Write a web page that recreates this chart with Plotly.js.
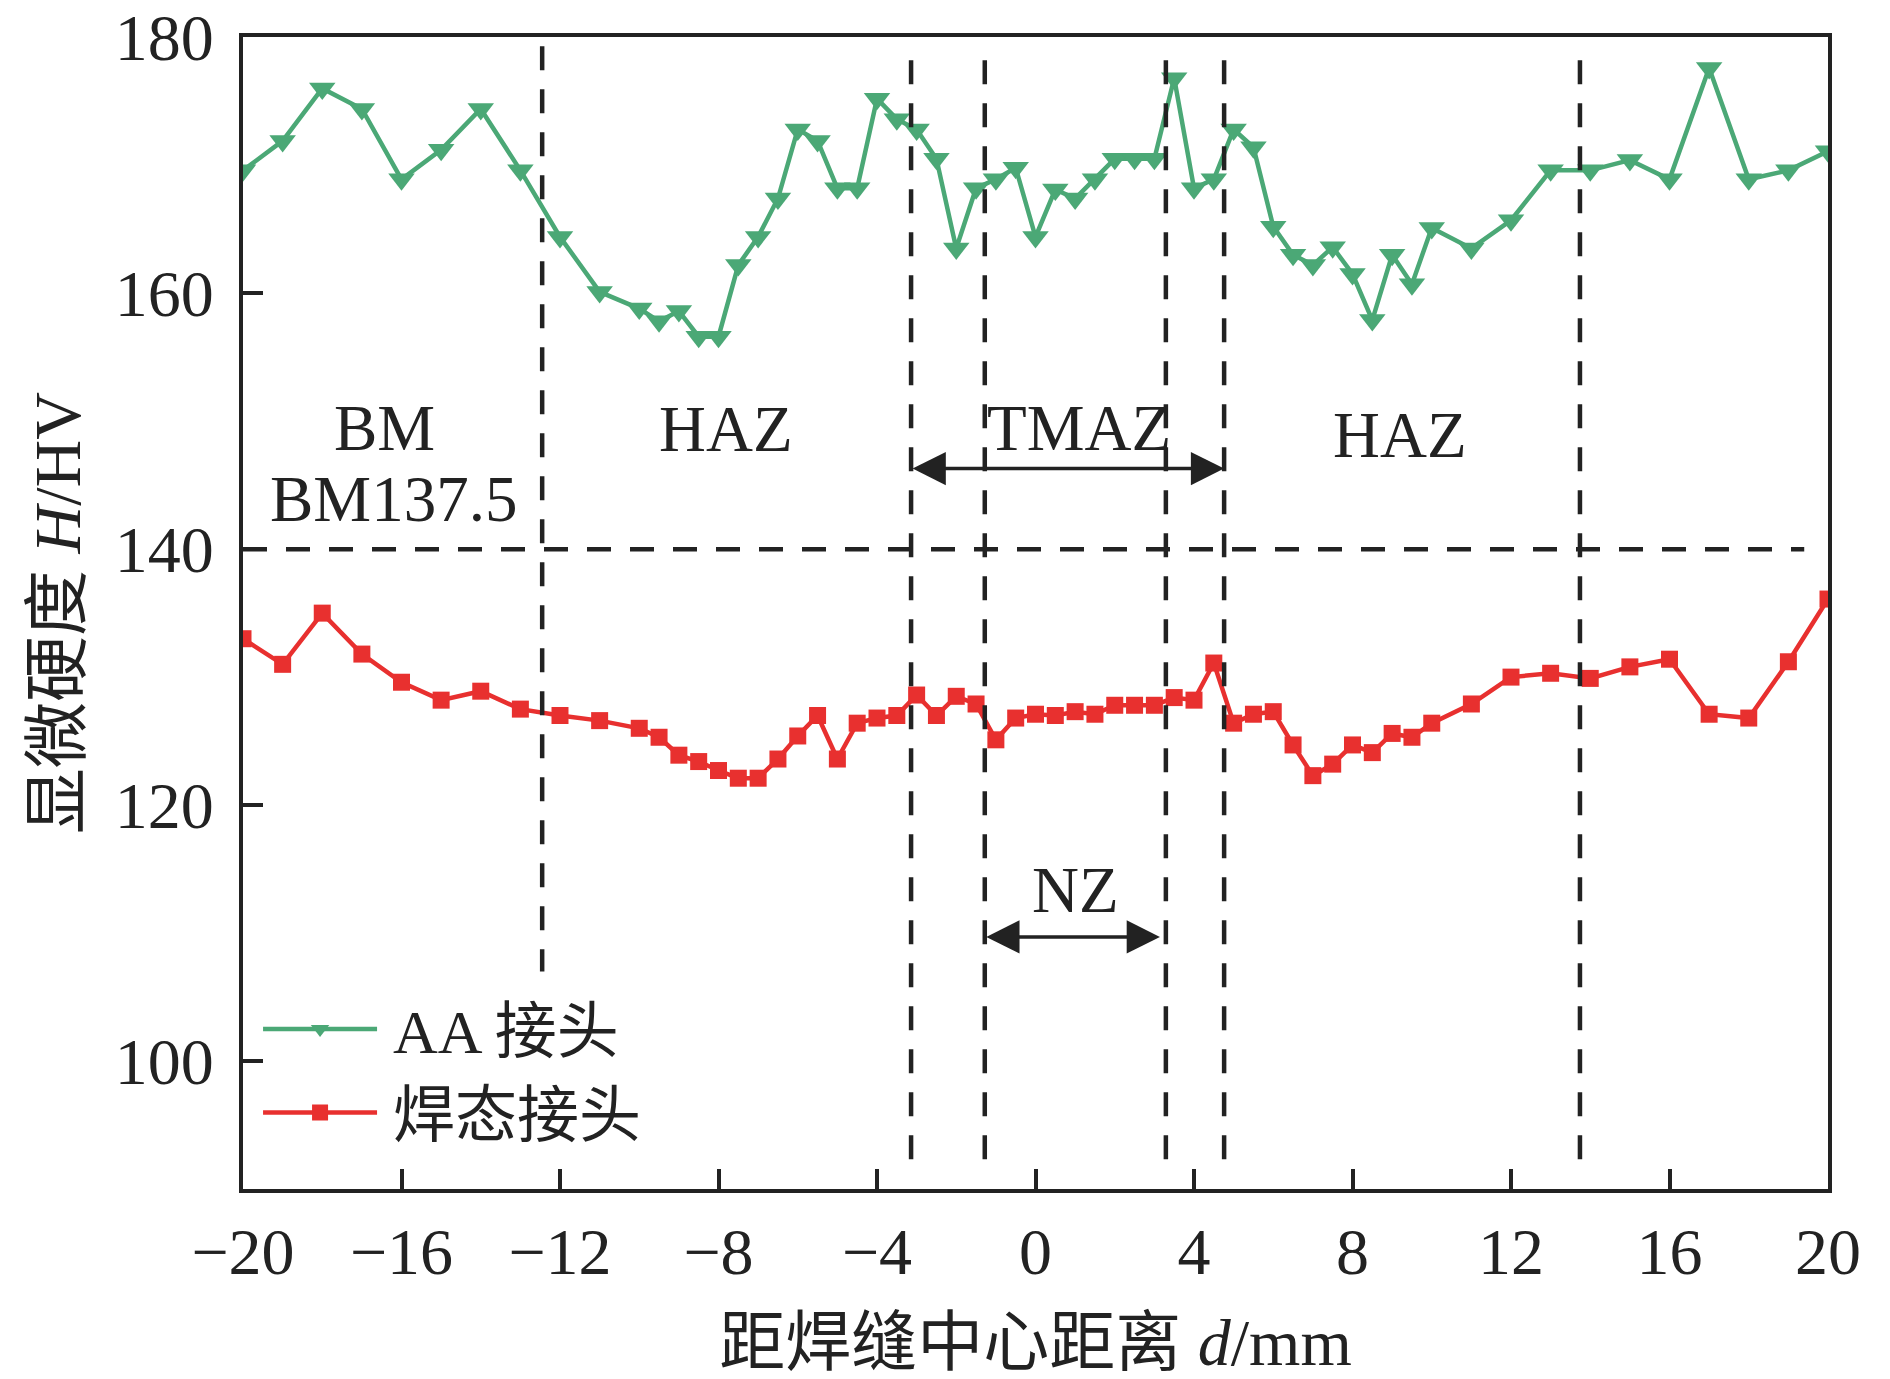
<!DOCTYPE html>
<html>
<head>
<meta charset="utf-8">
<script src="https://cdn.plot.ly/plotly-3.0.1.min.js"></script>
<style>
  html, body { margin: 0; padding: 0; background: #ffffff; }
  #chart { width: 1890px; height: 1379px; }
</style>
</head>
<body>
<div id="chart"></div>
<script>
// Distance from weld centre (mm)
const distanceMm = [
  -20, -19, -18, -17, -16, -15, -14, -13, -12, -11, -10,
  -9.5, -9, -8.5, -8, -7.5, -7, -6.5, -6, -5.5, -5,
  -4.5, -4, -3.5, -3, -2.5, -2, -1.5, -1, -0.5, 0,
  0.5, 1, 1.5, 2, 2.5, 3, 3.5, 4, 4.5, 5,
  5.5, 6, 6.5, 7, 7.5, 8, 8.5, 9, 9.5, 10,
  11, 12, 13, 14, 15, 16, 17, 18, 19, 20
];

// AA 接头 hardness (HV)
const hardnessAA = [
  169.6, 171.9, 176.0, 174.4, 168.9, 171.2, 174.4, 169.6, 164.4, 160.1, 158.8,
  157.8, 158.6, 156.6, 156.6, 162.2, 164.4, 167.4, 172.8, 171.9, 168.2,
  168.2, 175.2, 173.6, 172.8, 170.5, 163.5, 168.2, 168.9, 169.8, 164.4,
  168.1, 167.4, 168.9, 170.5, 170.5, 170.5, 176.8, 168.2, 168.9, 172.8,
  171.4, 165.2, 163.0, 162.2, 163.6, 161.5, 157.9, 163.0, 160.7, 165.1,
  163.5, 165.7, 169.6, 169.6, 170.4, 168.9, 177.6, 168.9, 169.6, 171.1
];

// 焊态接头 hardness (HV)
const hardnessAsWelded = [
  133.0, 131.0, 135.0, 131.8, 129.6, 128.2, 128.9, 127.5, 127.0, 126.6, 126.0,
  125.3, 123.9, 123.4, 122.7, 122.1, 122.1, 123.6, 125.4, 127.0, 123.6,
  126.4, 126.8, 127.0, 128.6, 127.0, 128.5, 127.9, 125.1, 126.8, 127.1,
  127.0, 127.3, 127.1, 127.8, 127.8, 127.8, 128.4, 128.2, 131.1, 126.4,
  127.1, 127.3, 124.7, 122.3, 123.2, 124.7, 124.1, 125.6, 125.3, 126.4,
  127.9, 130.0, 130.3, 129.9, 130.8, 131.4, 127.1, 126.8, 131.2, 136.1
];

const seriesNames = ['AA 接头', '焊态接头'];
const xTickVals = [-20, -16, -12, -8, -4, 0, 4, 8, 12, 16, 20];
const yTickVals = [100, 120, 140, 160, 180];

// Zone boundaries (mm) and reference hardness
const zoneBoundaries = [-12.45, -3.14, -1.28, 3.29, 4.76, 13.74];
const refHardness = 140;
const zoneLabels = ['BM', 'BM137.5', 'HAZ', 'TMAZ', 'HAZ', 'NZ'];
const zoneLabelX = [-16.42, -16.2, -7.8, 1.1, 9.2, 1.0];
const zoneLabelY = [149.5, 143.9, 149.4, 149.5, 148.9, 113.4];

const SERIF = 'Liberation Serif, "Times New Roman", "Noto Sans CJK SC", serif';
const INK = '#222222';
const GREEN = '#4BA876';
const RED = '#E8302F';

const traces = [
  {
    x: distanceMm, y: hardnessAA, name: seriesNames[0],
    type: 'scatter', mode: 'lines+markers',
    line: { color: GREEN, width: 4.5 },
    marker: { symbol: 'triangle-down', size: 23, color: GREEN }
  },
  {
    x: distanceMm, y: hardnessAsWelded, name: seriesNames[1],
    type: 'scatter', mode: 'lines+markers',
    line: { color: RED, width: 4.5 },
    marker: { symbol: 'square', size: 17, color: RED }
  }
];

const dashStyle = { color: INK, width: 4.5, dash: '24px,19px' };
const shapes = [];
zoneBoundaries.forEach((bx, i) => {
  shapes.push({
    type: 'line', xref: 'x', yref: 'y', layer: 'above',
    x0: bx, x1: bx,
    y0: i === 0 ? 179.3 : 178.2,
    y1: i === 0 ? 107 : 91,
    line: dashStyle
  });
});
shapes.push({
  type: 'line', xref: 'x', yref: 'y', layer: 'above',
  x0: -20, x1: 19.4, y0: refHardness, y1: refHardness,
  line: dashStyle
});

const annotations = zoneLabels.map((t, i) => ({
  x: zoneLabelX[i], y: zoneLabelY[i], xref: 'x', yref: 'y',
  text: t, showarrow: false,
  font: { family: SERIF, size: 65, color: INK }
}));

// TMAZ and NZ double-headed arrows
function doubleArrow(xa, xb, yv) {
  return {
    x: xb, y: yv, ax: xa, ay: yv,
    xref: 'x', yref: 'y', axref: 'x', ayref: 'y',
    text: '', showarrow: true,
    arrowhead: 2, startarrowhead: 2, arrowside: 'end+start',
    arrowsize: 1.9, startarrowsize: 1.9, arrowwidth: 3.5,
    arrowcolor: INK, standoff: 0, startstandoff: 0
  };
}
annotations.push(doubleArrow(zoneBoundaries[1], zoneBoundaries[4], 146.3));
annotations.push(doubleArrow(zoneBoundaries[2], zoneBoundaries[3] - 0.15, 109.7));

const layout = {
  width: 1890, height: 1379,
  margin: { l: 243, r: 62, t: 37, b: 190 },
  paper_bgcolor: '#ffffff', plot_bgcolor: '#ffffff',
  font: { family: SERIF, color: INK, size: 64 },
  showlegend: true,
  legend: {
    x: 0.0095, y: 0.025, xanchor: 'left', yanchor: 'bottom',
    bgcolor: 'rgba(0,0,0,0)', borderwidth: 0,
    font: { family: SERIF, size: 62, color: INK },
    tracegroupgap: 0, itemwidth: 125
  },
  xaxis: {
    range: [-20, 20],
    tickvals: xTickVals,
    ticks: 'inside', ticklen: 20, tickwidth: 4, tickcolor: INK,
    showline: true, linewidth: 4, linecolor: INK, mirror: true,
    showgrid: false, zeroline: false,
    tickfont: { family: SERIF, size: 66, color: INK },
    ticklabelstandoff: 2,
    title: { text: '距焊缝中心距离 <i>d</i>/mm', font: { family: SERIF, size: 66, color: INK }, standoff: 33 }
  },
  yaxis: {
    range: [90, 180.02],
    tickvals: yTickVals,
    ticks: 'inside', ticklen: 20, tickwidth: 4, tickcolor: INK,
    showline: true, linewidth: 4, linecolor: INK, mirror: true,
    showgrid: false, zeroline: false,
    tickfont: { family: SERIF, size: 66, color: INK },
    ticklabelstandoff: 12, ticklabeloverflow: 'allow',
    title: { text: '显微硬度 <i>H</i>/HV', font: { family: SERIF, size: 66, color: INK }, standoff: 14 }
  },
  shapes: shapes,
  annotations: annotations
};

const gd = document.getElementById('chart');
Plotly.newPlot(gd, traces, layout, { displayModeBar: false, staticPlot: true }).then(() => {
  // lengthen legend sample lines to match the original figure's legend
  const lineLen = 114;
  gd.querySelectorAll('.legend .traces').forEach(tr => {
    tr.querySelectorAll('.legendlines path').forEach(p => p.setAttribute('d', 'M5,0h' + lineLen));
    tr.querySelectorAll('.legendpoints path.scatterpts').forEach(p =>
      p.setAttribute('transform', 'translate(' + (5 + lineLen / 2) + ',0)'));
  });
});
</script>
</body>
</html>
